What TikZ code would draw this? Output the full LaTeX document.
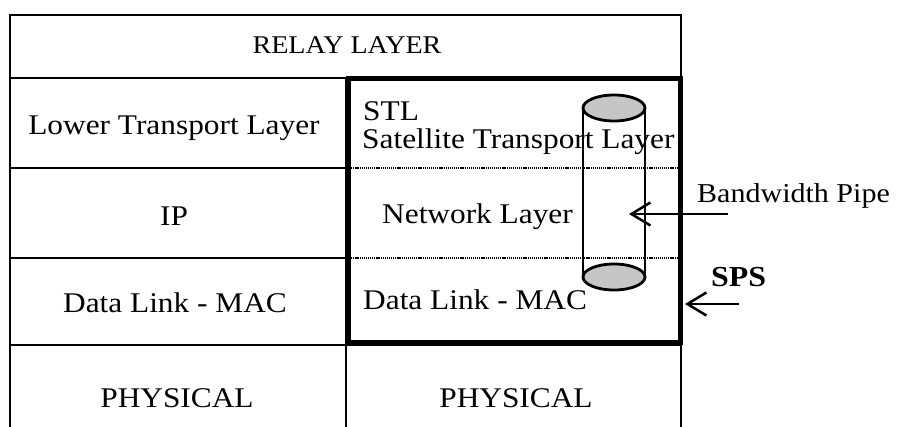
\documentclass[tikz,border=0pt]{standalone}
\usepackage{fontspec}
\setmainfont[FakeStretch=1.1]{Liberation Serif}
\usetikzlibrary{arrows.meta}

\tikzset{
  grid/.style={line width=2pt},
  spsbox/.style={line width=5pt},
  layerdots/.style={line width=2.5pt, dash pattern=on 1.2pt off 0.9pt},
  pipe/.style={line width=2.8pt},
  pipeend/.style={pipe, fill=gray!45},
  barb/.style={line width=2.5pt, -{Straight Barb[length=19pt,width=23pt,line width=2.5pt]}},
  txt/.style={anchor=base, inner sep=0pt, font=\fontsize{28.5}{34}\selectfont},
  caps/.style={txt, font=\fontsize{28.5}{34}\selectfont},
}

\begin{document}
\begin{tikzpicture}[x=1pt,y=-1pt]
\useasboundingbox (0,0) rectangle (897,427);

% outer frame and row lines
\draw[grid] (10,427) -- (10,15) -- (681,15) -- (681,427);
\draw[grid] (10,78) -- (681,78);
\foreach \y in {168,258} \draw[grid] (10,\y) -- (346,\y);
\draw[grid] (10,345) -- (681,345);
\draw[grid] (346,78) -- (346,427);

% SPS block
\foreach \y in {168,258} \draw[layerdots] (349,\y) -- (679,\y);
\draw[spsbox] (348,79) rectangle (680,343);

% bandwidth pipe
\draw[pipe] (583,108) -- (583,277);
\draw[pipe] (645,108) -- (645,277);
\draw[pipeend] (614,108) ellipse [x radius=31, y radius=13];
\draw[pipeend] (614,277) ellipse [x radius=31, y radius=13];

% left stack
\node[caps, font=\fontsize{25.5}{30}\selectfont] (relay) at (347,54) {RELAY LAYER};
\node[txt] (lowtp) at (174,135) {Lower Transport Layer};
\node[txt] (ip) at (174,226) {IP};
\node[txt] (dlleft) at (175,313) {Data Link - MAC};
\node[caps] (phyleft) at (177,408) {PHYSICAL};

% right stack
\node[txt, anchor=base west] (stl) at (363,121) {STL};
\node[txt, anchor=base west] (sattp) at (362,149) {Satellite Transport Layer};
\node[txt, anchor=base west] (netl) at (382,224) {Network Layer};
\node[txt, anchor=base west] (dlright) at (363,310) {Data Link - MAC};
\node[caps] (phyright) at (516,408) {PHYSICAL};

% labels and arrows
\node[txt, anchor=base west, font=\fontsize{27.3}{32}\selectfont] (bwpipe) at (697,203) {Bandwidth Pipe};
\node[txt, anchor=base west, font=\fontsize{29}{34}\selectfont\bfseries] (sps) at (711,287) {SPS};
\coordinate (bwtail) at (728,214);
\coordinate (bwtip) at (629,214);
\coordinate (spstail) at (739,304);
\coordinate (spstip) at (685,304);
\draw[barb] (bwtail) -- (bwtip);
\draw[barb] (spstail) -- (spstip);

\end{tikzpicture}
\end{document}
